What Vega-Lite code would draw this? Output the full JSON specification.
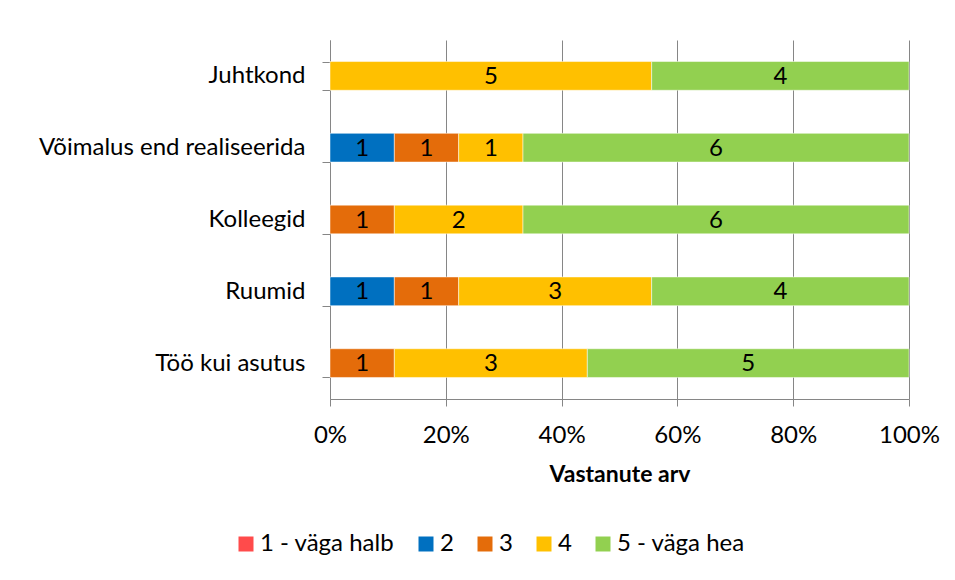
{
  "$schema": "https://vega.github.io/schema/vega-lite/v6.json",
  "width": 579,
  "height": 359,
  "autosize": {"type": "none"},
  "padding": {"left": 330, "top": 40, "right": 46, "bottom": 181},
  "background": "white",
  "config": {
    "font": "Lato",
    "view": {"stroke": null},
    "axis": {"labelFont": "Lato", "titleFont": "Lato"}
  },
  "data": {
    "values": [
      {"kategooria": "Juhtkond", "hinnang": "4", "arv": 5},
      {"kategooria": "Juhtkond", "hinnang": "5 - väga hea", "arv": 4},
      {"kategooria": "Võimalus end realiseerida", "hinnang": "2", "arv": 1},
      {"kategooria": "Võimalus end realiseerida", "hinnang": "3", "arv": 1},
      {"kategooria": "Võimalus end realiseerida", "hinnang": "4", "arv": 1},
      {"kategooria": "Võimalus end realiseerida", "hinnang": "5 - väga hea", "arv": 6},
      {"kategooria": "Kolleegid", "hinnang": "3", "arv": 1},
      {"kategooria": "Kolleegid", "hinnang": "4", "arv": 2},
      {"kategooria": "Kolleegid", "hinnang": "5 - väga hea", "arv": 6},
      {"kategooria": "Ruumid", "hinnang": "2", "arv": 1},
      {"kategooria": "Ruumid", "hinnang": "3", "arv": 1},
      {"kategooria": "Ruumid", "hinnang": "4", "arv": 3},
      {"kategooria": "Ruumid", "hinnang": "5 - väga hea", "arv": 4},
      {"kategooria": "Töö kui asutus", "hinnang": "3", "arv": 1},
      {"kategooria": "Töö kui asutus", "hinnang": "4", "arv": 3},
      {"kategooria": "Töö kui asutus", "hinnang": "5 - väga hea", "arv": 5}
    ]
  },
  "encoding": {
    "y": {
      "field": "kategooria",
      "type": "nominal",
      "sort": ["Juhtkond", "Võimalus end realiseerida", "Kolleegid", "Ruumid", "Töö kui asutus"],
      "scale": {"paddingInner": 0.6, "paddingOuter": 0.3},
      "axis": {
        "title": null,
        "labelFontSize": 24,
        "labelLimit": 330,
        "labelColor": "#000000",
        "labelPadding": 17,
        "tickBand": "extent",
        "tickSize": 8,
        "tickColor": "#868686",
        "domainColor": "#868686",
        "grid": false
      }
    }
  },
  "layer": [
    {
      "mark": {"type": "bar", "stroke": "white", "strokeWidth": 0.5},
      "encoding": {
        "x": {
          "field": "arv",
          "type": "quantitative",
          "stack": "normalize",
          "scale": {"domain": [0, 1]},
          "axis": {
            "title": "Vastanute arv",
            "format": "%",
            "values": [0, 0.2, 0.4, 0.6, 0.8, 1],
            "labelFontSize": 24,
            "labelFlush": false,
            "labelColor": "#000000",
            "labelPadding": 17,
            "tickSize": 7,
            "tickColor": "#868686",
            "domainColor": "#868686",
            "gridColor": "#868686",
            "gridWidth": 1,
            "titleFontSize": 23,
            "titleFontWeight": "bold",
            "titleColor": "#000000",
            "titlePadding": 16
          }
        },
        "color": {
          "field": "hinnang",
          "type": "nominal",
          "scale": {
            "domain": ["1 - väga halb", "2", "3", "4", "5 - väga hea"],
            "range": ["#FF4B4B", "#0070C0", "#E46C0A", "#FFC000", "#92D050"]
          },
          "legend": {
            "title": null,
            "orient": "none",
            "direction": "horizontal",
            "legendX": -96,
            "legendY": 492,
            "symbolType": "square",
            "symbolSize": 225,
            "symbolStrokeWidth": 0,
            "labelFontSize": 24,
            "labelColor": "#000000",
            "labelOffset": 2,
            "columnPadding": 19
          }
        },
        "order": {"field": "hinnang", "type": "ordinal"}
      }
    },
    {
      "mark": {"type": "text", "fontSize": 24, "color": "#000000", "baseline": "middle", "align": "center", "dy": 1},
      "encoding": {
        "x": {"field": "arv", "type": "quantitative", "stack": "normalize", "bandPosition": 0.5},
        "text": {"field": "arv", "type": "quantitative"},
        "detail": {"field": "hinnang", "type": "nominal"},
        "order": {"field": "hinnang", "type": "ordinal"}
      }
    }
  ]
}
